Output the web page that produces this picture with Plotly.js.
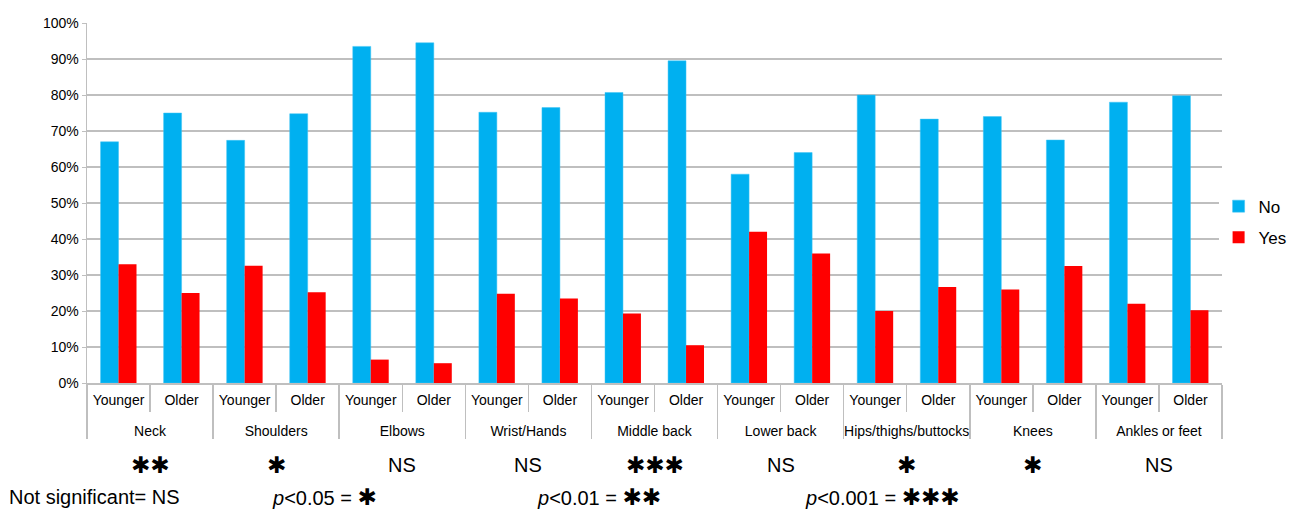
<!DOCTYPE html>
<html>
<head>
<meta charset="utf-8">
<script src="https://cdn.plot.ly/plotly-3.0.1.min.js"></script>
<style>html,body{margin:0;padding:0;background:#fff;}#chart{width:1289px;height:511px;}</style>
</head>
<body>
<div id="chart"></div>
<script>
const bodyParts = ["Neck","Shoulders","Elbows","Wrist/Hands","Middle back","Lower back","Hips/thighs/buttocks","Knees","Ankles or feet"];
const ageGroups = ["Younger","Older"];
const noValues  = [67.0, 75.0, 67.4, 74.8, 93.5, 94.5, 75.2, 76.5, 80.7, 89.5, 58.0, 64.0, 80.0, 73.3, 74.0, 67.5, 78.0, 79.8];
const yesValues = [33.0, 25.0, 32.6, 25.2, 6.5, 5.5, 24.8, 23.5, 19.3, 10.5, 42.0, 36.0, 20.0, 26.7, 26.0, 32.5, 22.0, 20.2];
const significance = ["✱✱","✱","NS","NS","✱✱✱","NS","✱","✱","NS"];
const noteLabels = ["Not significant= ", "<i>p</i><0.05 = ", "<i>p</i><0.01 = ", "<i>p</i><0.001 = "];
const noteSymbols = ["NS", "✱", "✱✱", "✱✱✱"];

const font = "Liberation Sans, Arial, sans-serif";
const symFont = "DejaVu Sans";
// child label gets a small spacer line so the parent row sits lower, as in the reference
const spacer = "<br><span style='font-size:5px'>&nbsp;</span>";
const parentX = [], childX = [];
bodyParts.forEach(p => ageGroups.forEach(a => { parentX.push(p); childX.push(a + spacer); }));

const traces = [
  {type:"bar", name:"No", legendgroup:"no", x:[parentX, childX], y:noValues, marker:{color:"#00B0F0", line:{color:"#3fc4f5", width:0.5}}},
  {type:"bar", name:"Yes", legendgroup:"yes", x:[parentX, childX], y:yesValues, marker:{color:"#FF0000"}}
];

function symText(s, size) {
  if (s === "NS") return s;
  return "<span style='font-family:" + symFont + ";font-size:" + size + "px'>" + s + "</span>";
}

const annotations = [];
significance.forEach((s, i) => {
  annotations.push({xref:"paper", yref:"paper", x:(i+0.5)/bodyParts.length, y:-0.228, text:symText(s, 23), showarrow:false,
    font:{family:font, size:20, color:"#000"}, xanchor:"center", yanchor:"middle"});
});
const noteX = [-0.0705, 0.1613, 0.3947, 0.6307];
noteLabels.forEach((t, i) => {
  annotations.push({xref:"paper", yref:"paper", x:noteX[i], y:-0.317, text:t + symText(noteSymbols[i], 23), showarrow:false,
    font:{family:font, size:20, color:"#000"}, xanchor:"left", yanchor:"middle"});
});

const layout = {
  width:1289, height:511,
  margin:{l:87, r:67, t:23, b:128, autoexpand:false},
  paper_bgcolor:"#fff", plot_bgcolor:"#fff",
  barmode:"group", bargap:0.43, bargroupgap:0,
  font:{family:font, size:14, color:"#000"},
  showlegend:true,
  legend:{x:0.997, y:0.447, xanchor:"left", yanchor:"middle", traceorder:"grouped", tracegroupgap:6,
    font:{family:font, size:17}, itemwidth:30},
  xaxis:{type:"multicategory", showline:true, linecolor:"#bfbfbf", linewidth:1.5,
    ticks:"outside", tickson:"boundaries", ticklen:27, tickcolor:"#bfbfbf", tickwidth:1.5,
    showdividers:true, dividercolor:"#bfbfbf", dividerwidth:1.5, tickangle:0, ticklabelstandoff:4,
    tickfont:{family:font, size:14}, showgrid:false, fixedrange:true},
  yaxis:{range:[0,100], dtick:10, ticksuffix:"%", showgrid:true, gridcolor:"#bfbfbf", gridwidth:1.2,
    showline:true, linecolor:"#bfbfbf", linewidth:1.5, ticks:"outside", ticklen:4, tickcolor:"#bfbfbf",
    zeroline:false, tickfont:{family:font, size:14}},
  annotations: annotations
};
Plotly.newPlot("chart", traces, layout, {displayModeBar:false, staticPlot:true});
</script>
</body>
</html>
